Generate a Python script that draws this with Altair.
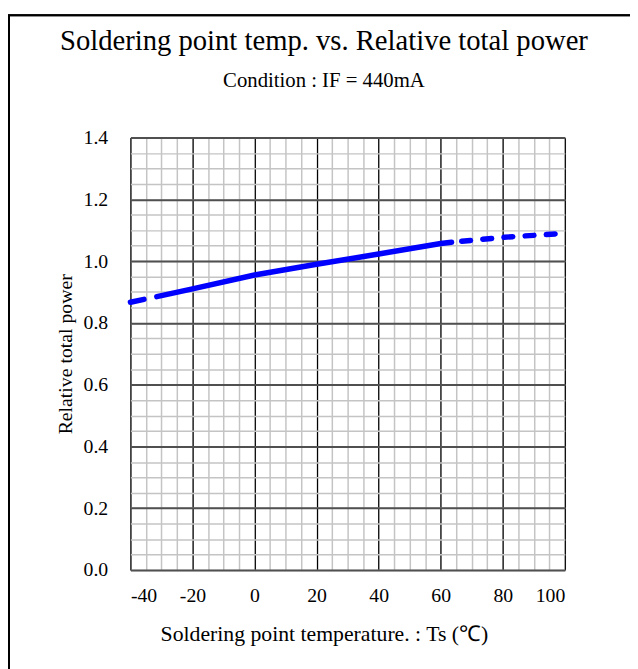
import altair as alt
import pandas as pd

# ---- data ----
left_x = [-40, -31.5]
left_y = [0.867, 0.885]
solid_x = [-31.5, -20, 0, 20, 40, 60, 63.5]
solid_y = [0.885, 0.910, 0.955, 0.990, 1.023, 1.057, 1.061]
right_x = [63.5, 80, 100]
right_y = [1.061, 1.077, 1.090]

x_major = [-40, -20, 0, 20, 40, 60, 80, 100]
x_minor = list(range(-40, 101, 5))
y_major = [0.0, 0.2, 0.4, 0.6, 0.8, 1.0, 1.2, 1.4]
y_minor = [round(i * 0.05, 2) for i in range(0, 29)]

title_text = "Soldering point temp. vs. Relative total power"
subtitle_text = "Condition : IF = 440mA"
x_title = "Soldering point temperature. : Ts (℃)"
y_title = "Relative total power"

FONT = "Liberation Serif"
W, H = 440, 438

df_left = pd.DataFrame({"t": left_x, "p": left_y})
df_solid = pd.DataFrame({"t": solid_x, "p": solid_y})
df_right = pd.DataFrame({"t": right_x, "p": right_y})
df_all = pd.concat([df_left, df_solid, df_right])

xs = alt.Scale(domain=[-40, 100], nice=False, zero=False)
ys = alt.Scale(domain=[0, 1.4], nice=False, zero=False)

# minor grid layer
minor = alt.Chart(df_all).mark_line(opacity=0).encode(
    x=alt.X("t:Q", scale=xs, axis=alt.Axis(
        values=x_minor, grid=True, gridColor="#c4c4c4", gridWidth=1.5,
        labels=False, ticks=False, domain=False, title=None, orient="bottom")),
    y=alt.Y("p:Q", scale=ys, axis=alt.Axis(
        values=y_minor, grid=True, gridColor="#c4c4c4", gridWidth=1.5,
        labels=False, ticks=False, domain=False, title=None, orient="left")),
)

xaxis = alt.Axis(values=x_major, grid=True, gridColor="#000000", gridWidth=1.2,
                 labelFont=FONT, labelFontSize=20, labelColor="#000",
                 labelPadding=16, ticks=False, domain=False,
                 labelExpr="toString(datum.value)",
                 title=x_title, titleFont=FONT, titleFontSize=22,
                 titleFontWeight="normal", titleColor="#000", titlePadding=18,
                 titleX=196, titleAnchor="middle", orient="bottom")
yaxis = alt.Axis(values=y_major, grid=True, gridColor="#505050", gridWidth=2,
                 labelFont=FONT, labelFontSize=20, labelColor="#000",
                 labelPadding=23, ticks=False, domain=False, format=".1f",
                 title=y_title, titleFont=FONT, titleFontSize=20,
                 titleFontWeight="normal", titleColor="#000", titlePadding=8,
                 orient="left")

base_enc = dict(x=alt.X("t:Q", scale=xs, axis=xaxis),
                y=alt.Y("p:Q", scale=ys, axis=yaxis))

line_style = dict(color="#0000ff", strokeWidth=5.5, strokeCap="round")

left = alt.Chart(df_left).mark_line(strokeDash=[14, 30], **line_style).encode(**base_enc)
solid = alt.Chart(df_solid).mark_line(**line_style).encode(
    x=alt.X("t:Q", scale=xs), y=alt.Y("p:Q", scale=ys))
right = alt.Chart(df_right).mark_line(strokeDash=[9, 12.5], strokeDashOffset=11.25,
                                      **line_style).encode(
    x=alt.X("t:Q", scale=xs), y=alt.Y("p:Q", scale=ys))

# outer frame (left and top edges of the sheet border)
frame_left = alt.Chart(df_left).mark_rule(color="#000", strokeWidth=2).encode(
    x=alt.value(-123), y=alt.value(-124), y2=alt.value(H + 200))
frame_top = alt.Chart(df_left).mark_rule(color="#000", strokeWidth=2).encode(
    x=alt.value(-124), x2=alt.value(W + 200), y=alt.value(-124))

main = alt.layer(left, solid, right, frame_left, frame_top)

chart = alt.layer(minor, main).resolve_axis(x="independent", y="independent").properties(
    width=W, height=H,
    autosize=alt.AutoSizeParams(type="none"),
    padding={"left": 124, "top": 127, "right": 66, "bottom": 96},
    title=alt.Title(text=title_text, subtitle=subtitle_text, font=FONT, fontSize=29,
                    fontWeight="normal", color="#000", subtitleFont=FONT,
                    subtitleFontSize=21, subtitleColor="#000", subtitlePadding=15,
                    anchor="middle", frame="group", dx=-24, offset=-78),
).configure_view(stroke="#000", strokeWidth=2).configure(background="white")

chart.save("out.html", embed_options={"renderer": "svg", "actions": False})
